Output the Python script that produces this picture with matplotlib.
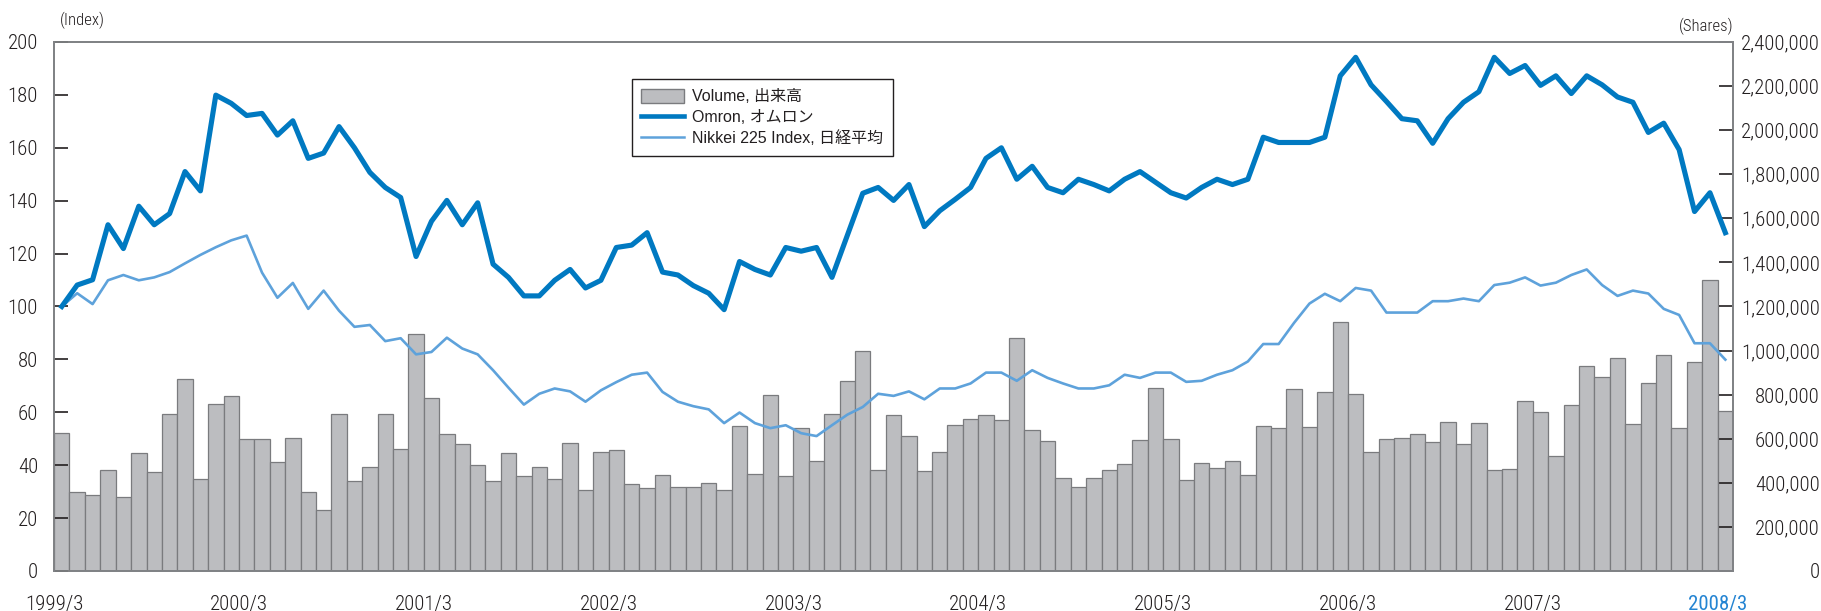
import numpy as np
import matplotlib
matplotlib.use("Agg")
import matplotlib.pyplot as plt
from matplotlib.patches import Patch
from matplotlib.lines import Line2D
from matplotlib.ticker import FuncFormatter

# monthly data, 1999/3 .. 2008/3 (109 months)
volume = [
    625000, 359000, 344000, 460000, 334000, 534000, 451000, 710000, 870000, 418000,
    758000, 793000, 599000, 599000, 496000, 604000, 359000, 276000, 714000, 410000,
    472000, 712000, 553000, 1073000, 787000, 620000, 574000, 481000, 410000, 534000,
    430000, 474000, 418000, 582000, 366000, 540000, 548000, 396000, 376000, 437000,
    383000, 382000, 401000, 368000, 658000, 440000, 798000, 430000, 648000, 499000,
    710000, 860000, 996000, 457000, 709000, 611000, 455000, 542000, 661000, 691000,
    706000, 685000, 1058000, 641000, 589000, 422000, 382000, 421000, 456000, 485000,
    596000, 828000, 599000, 415000, 491000, 469000, 498000, 437000, 660000, 647000,
    827000, 655000, 810000, 1130000, 804000, 539000, 601000, 604000, 622000, 583000,
    677000, 578000, 672000, 456000, 461000, 769000, 719000, 521000, 755000, 929000,
    882000, 968000, 667000, 853000, 978000, 647000, 946000, 1321000, 726000,
]
omron = [
    100.0, 108.1, 110.1, 130.9, 121.9, 137.9, 130.9, 135.1, 151.0, 143.7,
    179.9, 176.8, 172.2, 173.0, 164.8, 170.2, 156.0, 158.0, 168.0, 160.0,
    150.7, 145.0, 141.2, 118.9, 132.2, 140.1, 130.9, 139.2, 116.0, 111.0,
    104.0, 104.0, 109.9, 114.0, 107.0, 109.9, 122.3, 123.2, 127.9, 113.0,
    111.9, 107.9, 105.0, 98.8, 117.0, 114.0, 111.9, 122.3, 120.9, 122.3,
    111.0, 126.9, 142.8, 145.0, 140.1, 146.1, 130.2, 136.2, 140.5, 145.0,
    156.0, 160.0, 148.1, 153.0, 145.0, 143.0, 148.1, 146.1, 143.7, 148.1,
    151.0, 147.0, 143.0, 141.0, 145.0, 148.1, 146.1, 148.1, 164.0, 162.0,
    162.0, 162.0, 164.0, 187.2, 194.2, 183.8, 177.5, 171.0, 170.2, 161.7,
    171.0, 177.2, 181.2, 194.2, 188.1, 191.1, 183.6, 187.2, 180.5, 187.2,
    183.8, 179.2, 177.2, 165.8, 169.3, 159.3, 135.9, 143.0, 127.9,
]
nikkei = [
    100.0, 105.0, 100.9, 109.9, 111.9, 109.9, 111.0, 113.0, 116.3, 119.5,
    122.4, 125.0, 126.8, 112.8, 103.3, 108.9, 99.1, 106.0, 98.4, 92.3,
    93.0, 86.9, 88.0, 81.9, 82.8, 88.2, 84.1, 81.9, 75.9, 69.3,
    62.9, 67.0, 69.0, 67.9, 64.0, 68.3, 71.4, 74.2, 75.0, 67.7,
    64.0, 62.3, 61.1, 55.9, 59.9, 55.9, 54.0, 55.1, 52.1, 51.0,
    55.1, 59.1, 62.0, 67.0, 66.2, 67.9, 64.9, 69.0, 69.0, 70.9,
    75.0, 75.0, 71.9, 75.9, 73.0, 70.9, 69.0, 69.0, 70.2, 74.2,
    73.0, 75.0, 75.0, 71.5, 71.9, 74.2, 75.9, 79.2, 85.8, 85.8,
    93.8, 101.1, 104.8, 102.0, 107.0, 106.0, 97.7, 97.7, 97.7, 102.0,
    102.0, 103.0, 102.0, 108.1, 109.0, 111.0, 107.9, 109.0, 111.9, 114.0,
    108.1, 104.0, 106.0, 104.9, 99.1, 96.8, 86.1, 86.1, 79.9,
]
xlabels = ["1999/3", "2000/3", "2001/3", "2002/3", "2003/3",
           "2004/3", "2005/3", "2006/3", "2007/3", "2008/3"]

TXT = "#231f20"
OMRON_C = "#0079c1"
NIKKEI_C = "#5ea2db"
BAR_C = "#bcbdc0"
BAR_E = "#7a7b7e"
SPINE_C = "#808285"
NARROW = ["Roboto Condensed", "DejaVu Sans"]
LEG_FONT = ["Liberation Sans", "Noto Sans CJK JP"]

n = len(volume)
x = np.arange(n) + 0.5

fig = plt.figure(figsize=(18.21, 6.11), dpi=100)
ax = fig.add_axes([0.0297, 0.0655, 0.9220, 0.8658])
axv = ax.twinx()
ax.set_zorder(axv.get_zorder() + 1)
ax.patch.set_visible(False)

bars = axv.bar(x, volume, width=1.0, color=BAR_C, edgecolor=BAR_E, linewidth=0.9)
ln_n, = ax.plot(x, nikkei, color=NIKKEI_C, lw=1.9)
ln_o, = ax.plot(x, omron, color=OMRON_C, lw=3.7)

ax.set_xlim(0, n)
ax.set_ylim(0, 200)
axv.set_ylim(0, 2400000)
ax.set_yticks(np.arange(0, 201, 20))
axv.set_yticks(np.arange(0, 2400001, 200000))
axv.yaxis.set_major_formatter(FuncFormatter(lambda v, p: f"{int(v):,}"))

ax.set_xticks(np.arange(0, n, 12))
ax.set_xticklabels(xlabels)
ax.tick_params(axis="x", length=0, pad=17, labelsize=15, labelcolor=TXT)
ax.tick_params(axis="y", direction="in", length=10, width=1.2, color=TXT,
               pad=11.5, labelsize=15, labelcolor=TXT)
axv.tick_params(axis="y", direction="in", length=10, width=1.2, color=TXT,
                pad=62.5, labelsize=15, labelcolor=TXT)
for lab in ax.get_xticklabels() + ax.get_yticklabels() + axv.get_yticklabels():
    lab.set_family(NARROW)
    lab.set_fontweight(300)
for lab in axv.get_yticklabels():
    lab.set_horizontalalignment("right")
ax.get_xticklabels()[-1].set_color("#2484d2")
ax.get_xticklabels()[-1].set_fontweight(400)

for a in (ax, axv):
    for s in a.spines.values():
        s.set_color(SPINE_C)
        s.set_linewidth(1.3)

fig.text(60 / 1821, 1 - 20 / 611, "(Index)", ha="left", va="center",
         fontsize=12, color=TXT, family=NARROW, fontweight=300)
fig.text(1734 / 1821, 1 - 26 / 611, "(Shares)", ha="right", va="center",
         fontsize=12, color=TXT, family=NARROW, fontweight=300)

handles = [
    Patch(facecolor=BAR_C, edgecolor=BAR_E, linewidth=1.0),
    Line2D([], [], color=OMRON_C, lw=3.3),
    Line2D([], [], color=NIKKEI_C, lw=1.8),
]
labels = ["Volume, 出来高", "Omron, オムロン", "Nikkei 225 Index, 日経平均"]
leg = ax.legend(handles, labels, loc="upper left", bbox_to_anchor=(0.344, 0.930),
                borderaxespad=0, fancybox=False, frameon=True, framealpha=1,
                edgecolor=TXT, handlelength=2.7, handleheight=1.0,
                handletextpad=0.5, labelspacing=0.33, borderpad=0.6,
                prop={"family": LEG_FONT, "size": 11.5})
leg.get_frame().set_linewidth(1.0)
for t in leg.get_texts():
    t.set_color(TXT)

fig.savefig("out.png", dpi=100)
